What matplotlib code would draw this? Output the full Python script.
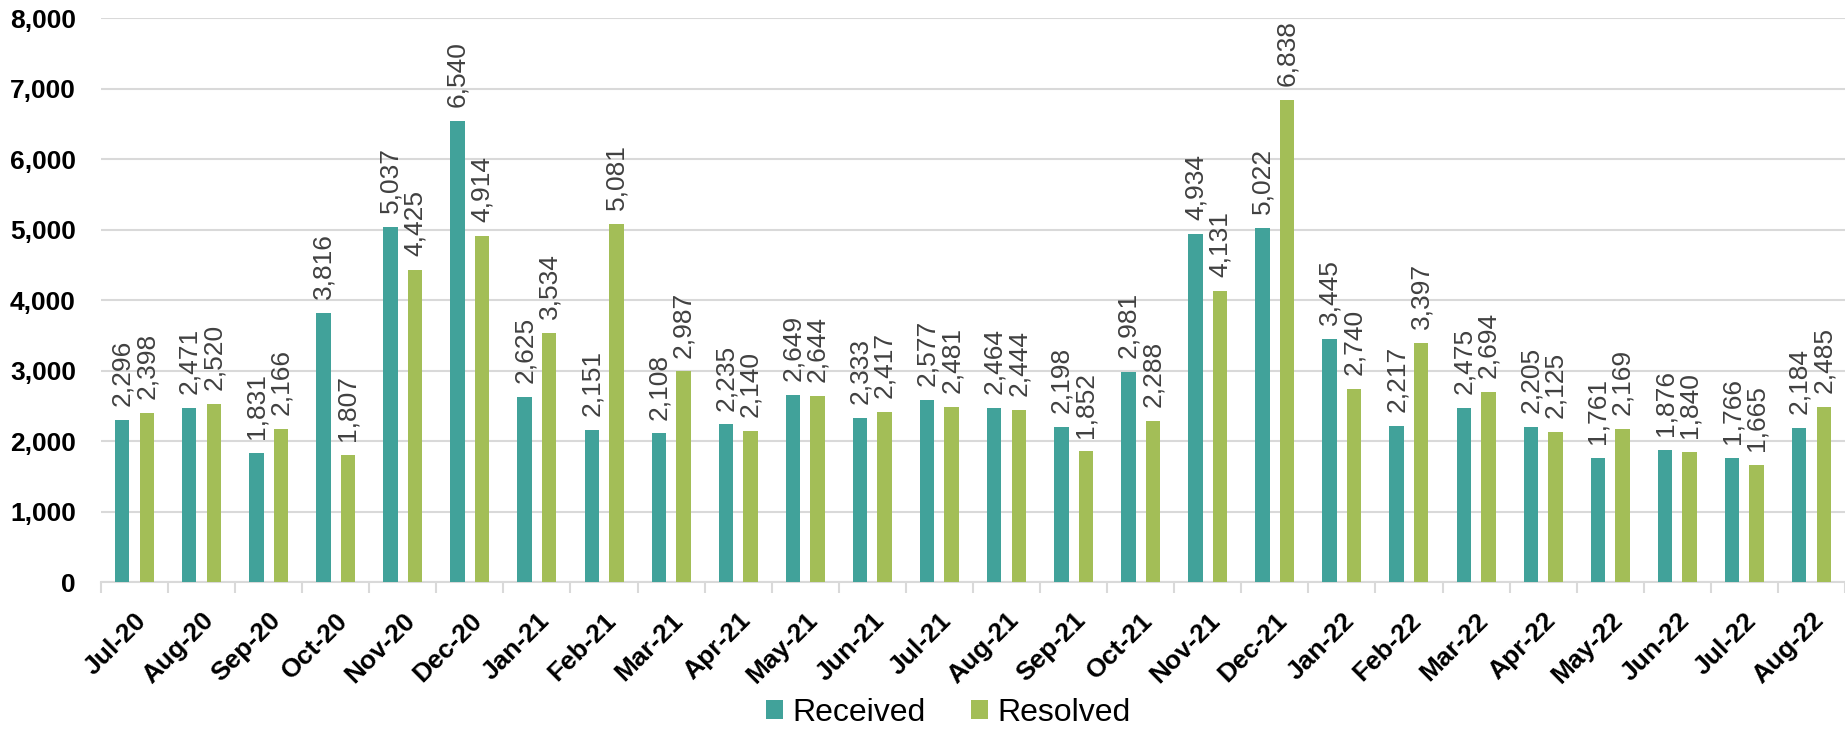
import matplotlib.pyplot as plt
from matplotlib.ticker import FuncFormatter, FixedLocator
from matplotlib.transforms import ScaledTranslation
import numpy as np

plt.rcParams['font.family'] = ['Liberation Sans', 'DejaVu Sans']

months = ['Jul-20', 'Aug-20', 'Sep-20', 'Oct-20', 'Nov-20', 'Dec-20',
          'Jan-21', 'Feb-21', 'Mar-21', 'Apr-21', 'May-21', 'Jun-21',
          'Jul-21', 'Aug-21', 'Sep-21', 'Oct-21', 'Nov-21', 'Dec-21',
          'Jan-22', 'Feb-22', 'Mar-22', 'Apr-22', 'May-22', 'Jun-22',
          'Jul-22', 'Aug-22']
received = [2296, 2471, 1831, 3816, 5037, 6540, 2625, 2151, 2108, 2235,
            2649, 2333, 2577, 2464, 2198, 2981, 4934, 5022, 3445, 2217,
            2475, 2205, 1761, 1876, 1766, 2184]
resolved = [2398, 2520, 2166, 1807, 4425, 4914, 3534, 5081, 2987, 2140,
            2644, 2417, 2481, 2444, 1852, 2288, 4131, 6838, 2740, 3397,
            2694, 2125, 2169, 1840, 1665, 2485]

TEAL = '#41a29a'
GREEN = '#a3be57'
GRID = '#d9d9d9'

fig = plt.figure(figsize=(18.45, 7.3), dpi=100)
ax = fig.add_axes([0.0547, 0.2027, 0.9453, 0.7726])

x = np.arange(len(months))
width = 0.215
off = 0.183

bars_rec = ax.bar(x - off, received, width, color=TEAL, label='Received', zorder=3)
bars_res = ax.bar(x + off, resolved, width, color=GREEN, label='Resolved', zorder=3)

# value labels, rotated, sitting just above each bar
for bars, vals in ((bars_rec, received), (bars_res, resolved)):
    for b, v in zip(bars, vals):
        ax.annotate(f'{v:,}', (b.get_x() + b.get_width() / 2, v),
                    xytext=(0, 10), textcoords='offset points',
                    rotation=90, ha='center', va='bottom',
                    fontsize=19, color='#404040', zorder=4)

ax.set_xlim(-0.5, len(months) - 0.5)
ax.set_ylim(0, 8000)
ax.set_yticks(np.arange(0, 8001, 1000))
ax.yaxis.set_major_formatter(FuncFormatter(lambda v, p: f'{int(v):,}'))
ax.grid(axis='y', color=GRID, linewidth=1.5, zorder=0)
ax.set_axisbelow(True)

ax.set_xticks(x)
ax.set_xticklabels(months, rotation=45, ha='right', va='top',
                   rotation_mode='anchor', fontweight='bold', fontsize=19)
shift = ScaledTranslation(5 / 100, 0, fig.dpi_scale_trans)
for lbl in ax.get_xticklabels():
    lbl.set_transform(lbl.get_transform() + shift)
ax.xaxis.set_minor_locator(FixedLocator(np.arange(-0.5, len(months), 1)))
ax.tick_params(axis='x', which='major', length=0, pad=19)
ax.tick_params(axis='x', which='minor', length=8, width=1.5, color=GRID)
ax.tick_params(axis='y', length=0, pad=18, labelsize=19)
for lbl in ax.get_yticklabels():
    lbl.set_fontweight('bold')

for side in ('top', 'right', 'left'):
    ax.spines[side].set_visible(False)
ax.spines['bottom'].set_color(GRID)
ax.spines['bottom'].set_linewidth(1.5)

fig.legend(handles=[bars_rec, bars_res], loc='lower center',
           bbox_to_anchor=(0.514, -0.036), ncol=2, frameon=False,
           fontsize=23, handlelength=0.55, handleheight=0.55,
           handletextpad=0.3, columnspacing=1.4)

fig.savefig('out.png', dpi=100)
